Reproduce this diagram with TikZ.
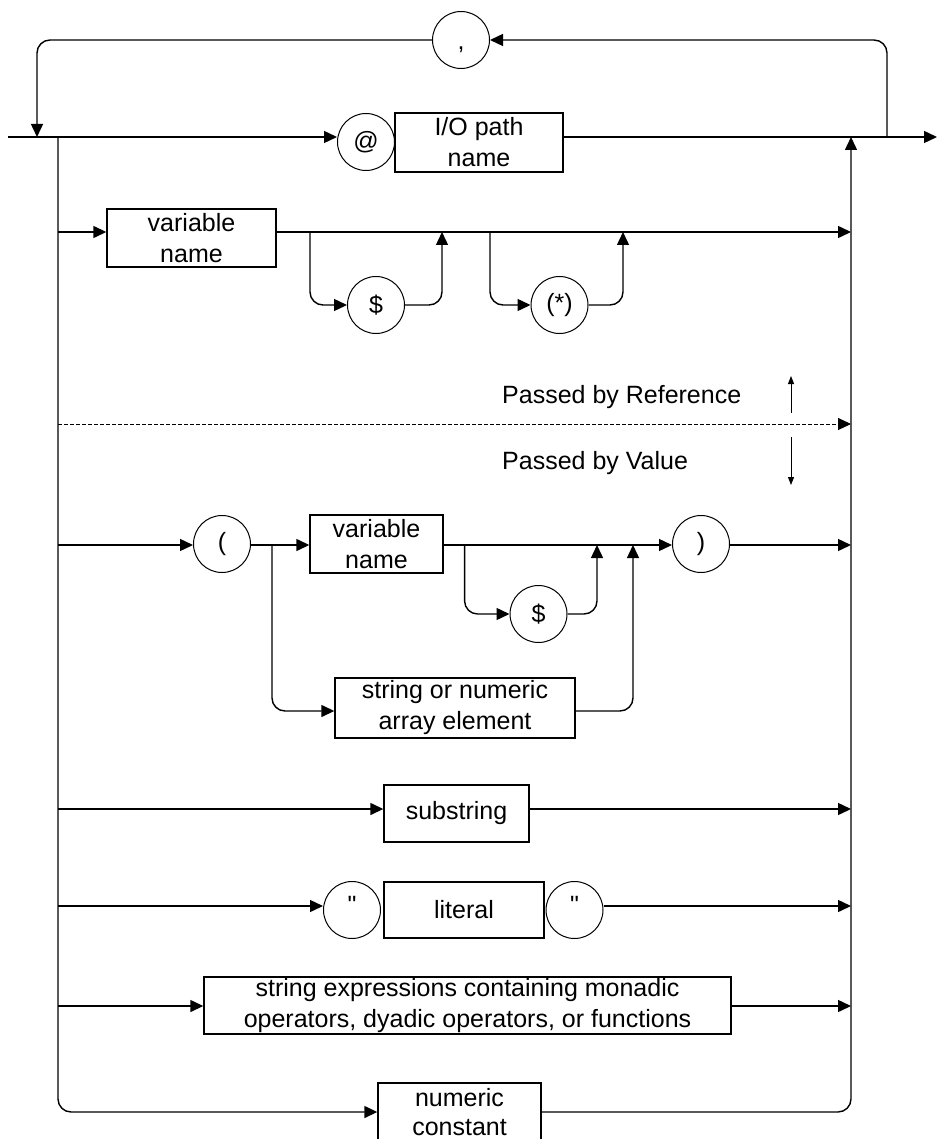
\documentclass[tikz,border=0pt]{standalone}
\usepackage{fontspec}
\setmainfont{Liberation Sans}
\newfontfamily\qfont{Liberation Sans}
\usetikzlibrary{arrows.meta}
\begin{document}
\begin{tikzpicture}[x=1pt,y=-1pt,
  line/.style={line width=1.4pt},
  arr/.style={-{Triangle[length=13pt,width=12pt]}},
  smallarr/.style={line width=1pt,-{Triangle[length=8pt,width=6pt]}},
  rc/.style={rounded corners=13pt},
  term/.style={draw, circle, minimum size=57pt, inner sep=0pt, line width=1pt,
    font=\fontsize{25}{31}\selectfont},
  nonterm/.style={draw, rectangle, inner sep=0pt, line width=1.4pt, align=center,
    font=\fontsize{25}{31}\selectfont},
  lbl/.style={anchor=west, inner sep=0pt, font=\fontsize{25}{31}\selectfont}]
\useasboundingbox (0,0) rectangle (937,1139);

% nodes
\node[term] (comma) at (461,40) {\raisebox{-10pt}[0pt][0pt]{,}};
\node[term] (at) at (366,142) {@};
\node[nonterm, minimum width=168pt, minimum height=59pt] (io) at (479,142.5) {I/O path\\name};

\node[nonterm, minimum width=169pt, minimum height=58pt] (var1) at (191.5,238) {variable\\name};
\node[term] (dol1) at (376,305) {\$};
\node[term] (star) at (559.5,305) {(*)};

\node[lbl] (ref) at (502,397) {Passed by Reference};
\node[lbl] (val) at (502,463) {Passed by Value};

\node[term] (lp) at (222,544) {(};
\node[nonterm, minimum width=133pt, minimum height=58pt] (var2) at (376.5,544) {variable\\name};
\node[term] (dol2) at (538.5,614) {\$};
\node[term] (rp) at (701,544) {)};
\node[nonterm, minimum width=240pt, minimum height=60pt] (arrel) at (455,708) {string or numeric\\array element};

\node[nonterm, minimum width=145pt, minimum height=57pt] (sub) at (456.5,813.5) {substring};
\node[term] (q1) at (352,910) {\qfont\raisebox{-3pt}[0pt][0pt]{"}};
\node[nonterm, minimum width=160pt, minimum height=56pt] (lit) at (464,910) {literal};
\node[term] (q2) at (574.5,910) {\qfont\raisebox{-3pt}[0pt][0pt]{"}};
\node[nonterm, minimum width=527pt, minimum height=57pt] (sexp) at (467.5,1005.5)
  {string expressions containing monadic\\operators, dyadic operators, or functions};
\node[nonterm, minimum width=163pt, minimum height=58pt,
  font=\fontsize{25}{29}\selectfont] (num) at (459.5,1112) {numeric\\constant};

% coordinates
\coordinate (start) at (8,137);
\coordinate (endp) at (937,137);
\coordinate (bl) at (58,137);
\coordinate (br) at (851,137);
\coordinate (lr) at (887,137);
\coordinate (ll) at (37,137);
\coordinate (r2) at (58,232);
\coordinate (r3) at (58,424);
\coordinate (r4) at (58,545);
\coordinate (r5) at (58,809);
\coordinate (r6) at (58,906);
\coordinate (r7) at (58,1006);
\coordinate (r8) at (58,1112);
\coordinate (d1) at (310,232);
\coordinate (u1) at (442,232);
\coordinate (d2) at (490,232);
\coordinate (u2) at (623,232);
\coordinate (sp) at (272,545);
\coordinate (ya) at (0,711);
\coordinate (ja) at (633,545);
\coordinate (d3) at (464.6,545);
\coordinate (u3) at (597,545);
\coordinate (up1) at (791,413);
\coordinate (up2) at (791,376);
\coordinate (dn1) at (791,437);
\coordinate (dn2) at (791,485);

% main line and loop
\draw[line,arr] (start) -- (start -| at.west);
\draw[line,arr] (start -| io.east) -- (endp);
\draw[line,arr,rc] (lr) |- (comma.east);
\draw[line,arr,rc] (comma.west) -| (ll);

% outer branches
\draw[line,arr,rc] (bl) |- (r8 -| num.west);
\draw[line,arr,rc] (r8 -| num.east) -| (br);

% row 2
\draw[line,arr] (r2) -- (r2 -| var1.west);
\draw[line,arr] (r2 -| var1.east) -- (r2 -| br);
\draw[line,arr,rc] (d1) |- (dol1.west);
\draw[line,arr,rc] (dol1.east) -| (u1);
\draw[line,arr,rc] (d2) |- (star.west);
\draw[line,arr,rc] (star.east) -| (u2);

% row 3 (dotted)
\draw[line width=1pt, dash pattern=on 4pt off 2pt, arr] (r3) -- (r3 -| br);
\draw[smallarr] (up1) -- (up2);
\draw[smallarr] (dn1) -- (dn2);

% row 4
\draw[line,arr] (r4) -- (r4 -| lp.west);
\draw[line,arr] (r4 -| lp.east) -- (r4 -| var2.west);
\draw[line,arr] (r4 -| var2.east) -- (r4 -| rp.west);
\draw[line,arr] (r4 -| rp.east) -- (r4 -| br);
\draw[line,arr,rc] (d3) |- (dol2.west);
\draw[line,arr,rc] (dol2.east) -| (u3);
\draw[line,arr,rc] (sp) |- (ya -| arrel.west);
\draw[line,arr,rc] (ya -| arrel.east) -| (ja);

% rows 5-7
\draw[line,arr] (r5) -- (r5 -| sub.west);
\draw[line,arr] (r5 -| sub.east) -- (r5 -| br);
\draw[line,arr] (r6) -- (r6 -| q1.west);
\draw[line,arr] (r6 -| q2.east) -- (r6 -| br);
\draw[line,arr] (r7) -- (r7 -| sexp.west);
\draw[line,arr] (r7 -| sexp.east) -- (r7 -| br);
\end{tikzpicture}
\end{document}
